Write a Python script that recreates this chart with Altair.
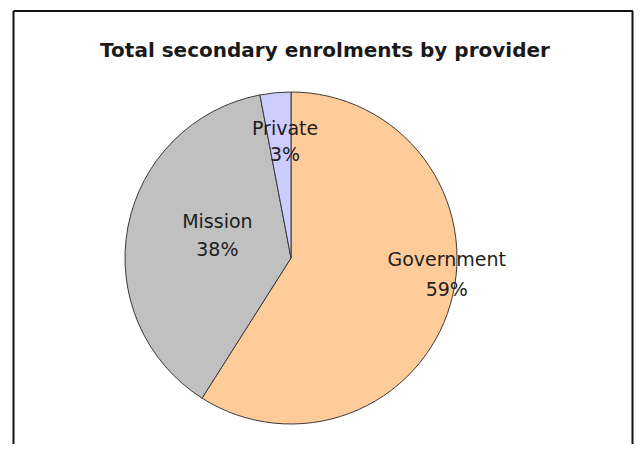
import altair as alt
import pandas as pd

# ---- data ----
providers = ["Government", "Mission", "Private"]
shares = [59, 38, 3]
colors = ["#FFCC99", "#C0C0C0", "#CCCCFF"]
title_text = "Total secondary enrolments by provider"

df = pd.DataFrame({"provider": providers, "share": shares, "order": list(range(len(providers)))})

W, H = 626, 386
CX, CY = 283, 200
R = 166

theta_scale = alt.Scale(domain=[0, 100], range=[0, 6.283185307179586])

base = alt.Chart(df).transform_window(
    end="sum(share)", sort=[alt.SortField("order")], frame=[None, 0]
).transform_calculate(
    start="datum.end - datum.share",
    mid="datum.end - datum.share / 2",
    label="datum.provider + '\\n' + datum.share + '%'",
)

pie = base.mark_arc(outerRadius=R, stroke="#3a3a3a", strokeWidth=1).encode(
    theta=alt.Theta("start:Q", scale=theta_scale, stack=None),
    theta2="end:Q",
    color=alt.Color("provider:N", scale=alt.Scale(domain=providers, range=colors), legend=None),
    x=alt.value(CX),
    y=alt.value(CY),
)

label_style = [("Government", 157, 5, -42, 30), ("Mission", 77, 2, -22, 28), ("Private", 116, 5, -14, 26)]
labels = []
for name, r, ddx, ddy, lh in label_style:
    labels.append(
        base.transform_filter(alt.datum.provider == name)
        .mark_text(radius=r, dx=ddx, dy=ddy, font="DejaVu Sans", fontSize=19,
                   color="#1e1e1e", lineBreak="\n", lineHeight=lh,
                   align="center", baseline="middle")
        .encode(
            theta=alt.Theta("mid:Q", scale=theta_scale, stack=None),
            text="label:N",
            x=alt.value(CX),
            y=alt.value(CY),
        )
    )

frame = alt.Chart(alt.Data(values=[{}])).mark_rule(color="#111111", strokeWidth=2)
left = frame.encode(x=alt.value(5.5), y=alt.value(-47), y2=alt.value(H))
top = frame.encode(x=alt.value(5.5), x2=alt.value(625), y=alt.value(-47))
right = frame.encode(x=alt.value(624.5), y=alt.value(-47), y2=alt.value(H))

chart = alt.layer(left, top, right, pie, *labels).properties(
    width=W,
    height=H,
    title=alt.TitleParams(title_text, font="DejaVu Sans", fontSize=20, fontWeight="bold",
                          anchor="middle", color="#1a1a1a", offset=0, dx=4, dy=51),
    autosize=alt.AutoSizeParams(type="none"),
    padding={"left": 0, "top": 50, "right": 0, "bottom": 0},
).configure_view(stroke=None)

chart.save("out.html", embed_options={"renderer": "svg", "actions": False})
